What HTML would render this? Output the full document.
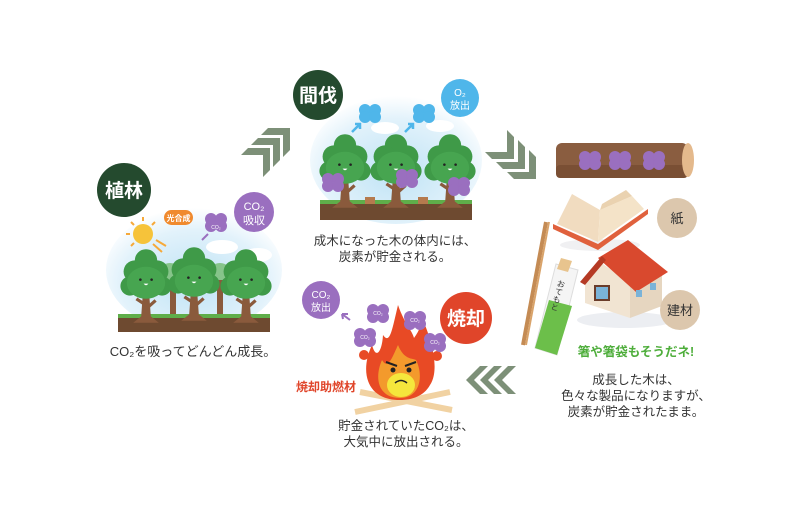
<!DOCTYPE html>
<html><head><meta charset="utf-8"><style>
html,body{margin:0;padding:0;background:#fff;}
svg{display:block}
text{font-family:"Liberation Sans","Noto Sans CJK JP",sans-serif;}
</style></head><body>
<svg width="800" height="516" viewBox="0 0 800 516" xmlns="http://www.w3.org/2000/svg">
<defs>
<radialGradient id="sky" cx="50%" cy="60%" r="60%">
<stop offset="0" stop-color="#bfe3f5"/><stop offset="0.7" stop-color="#e2f2fb"/><stop offset="1" stop-color="#fff"/>
</radialGradient>
<g id="tree0">
<path d="M-4 20 L-6 48 L-16 56 L16 56 L6 48 L4 20 Z" fill="#8a5a3c"/>
<path d="M-3 32 L-12 26 M3 36 L12 28" stroke="#8a5a3c" stroke-width="4"/>
<circle cx="0" cy="-22" r="14" fill="#3f9a48"/>
<circle cx="-14" cy="-8" r="14" fill="#3f9a48"/>
<circle cx="14" cy="-8" r="14" fill="#3f9a48"/>
<circle cx="-20" cy="10" r="12" fill="#3f9a48"/>
<circle cx="20" cy="10" r="12" fill="#3f9a48"/>
<ellipse cx="0" cy="6" rx="24" ry="20" fill="#47a550"/>
<circle cx="-7" cy="2" r="1.6" fill="#222"/><circle cx="7" cy="2" r="1.6" fill="#222"/>
<path d="M-3 7 Q0 11 3 7 Z" fill="#fff"/>
</g>
<g id="tree" transform="scale(0.8)"><use href="#tree0"/></g>
<g id="puff">
<circle cx="-5" cy="-3" r="6"/><circle cx="5" cy="-3" r="6"/><circle cx="-5" cy="4" r="6"/><circle cx="5" cy="4" r="6"/>
</g>
<polygon id="chevUR" points="-22,7 -15,0 7,0 7,22 0,29 0,7"/>
<polygon id="chevDR" points="0,-22 7,-15 7,7 -15,7 -22,0 0,0"/>
<polygon id="chevL" points="0,0 14,-14 22,-14 8,0 22,14 14,14"/>
</defs>

<!-- Forest 1 -->
<ellipse cx="194" cy="270" rx="88" ry="62" fill="url(#sky)"/>
<ellipse cx="258" cy="255" rx="14" ry="7" fill="#fff"/>
<ellipse cx="222" cy="247" rx="16" ry="7" fill="#fff"/>
<g fill="#86c48a"><circle cx="170" cy="275" r="12"/><circle cx="220" cy="275" r="12"/></g>
<rect x="170" y="280" width="6" height="36" fill="#8a5a3c"/>
<rect x="217" y="280" width="6" height="36" fill="#8a5a3c"/>
<rect x="118" y="314" width="152" height="6" fill="#5fae4a"/>
<rect x="118" y="318" width="152" height="14" fill="#6e4a30"/>
<use href="#tree" x="146" y="278"/>
<use href="#tree" x="194" y="276"/>
<use href="#tree" x="246" y="278"/>
<circle cx="143" cy="234" r="10" fill="#f6c33a"/>
<g stroke="#f6a93a" stroke-width="2"><line x1="143" y1="217" x2="143" y2="221"/><line x1="126" y1="234" x2="130" y2="234"/><line x1="131" y1="222" x2="134" y2="225"/><line x1="155" y1="222" x2="152" y2="225"/><line x1="131" y1="246" x2="134" y2="243"/><line x1="156" y1="240" x2="166" y2="246"/><line x1="153" y1="244" x2="162" y2="252"/></g>
<rect x="164" y="210" width="29" height="15" rx="7.5" fill="#f08a2e"/>
<text x="178.5" y="221" font-size="8" fill="#fff" text-anchor="middle" font-weight="bold">光合成</text>
<use href="#puff" x="216" y="222" fill="#9a6fbf"/>
<text x="216" y="229" font-size="5" fill="#fff" text-anchor="middle">CO₂</text>
<path d="M208 234 L202 240" stroke="#9a6fbf" stroke-width="2"/>
<circle cx="254" cy="212" r="20" fill="#9a6fbf"/>
<text x="254" y="210" font-size="11" fill="#fff" text-anchor="middle">CO₂</text>
<text x="254" y="224" font-size="11" fill="#fff" text-anchor="middle">吸収</text>
<circle cx="124" cy="190" r="27" fill="#244a2e"/>
<text x="124" y="197" font-size="19" fill="#fff" text-anchor="middle" font-weight="bold">植林</text>
<text x="193" y="356" font-size="13" fill="#333" text-anchor="middle">CO₂を吸ってどんどん成長。</text>

<!-- chevrons up-right -->
<g fill="#7d9078">
<use href="#chevUR" x="263" y="148"/>
<use href="#chevUR" x="273" y="138"/>
<use href="#chevUR" x="283" y="128"/>
</g>

<!-- Forest 2 -->
<ellipse cx="396" cy="160" rx="86" ry="64" fill="url(#sky)"/>
<ellipse cx="385" cy="128" rx="14" ry="6" fill="#fff"/>
<ellipse cx="440" cy="126" rx="14" ry="6" fill="#fff"/>
<rect x="320" y="200" width="152" height="6" fill="#5fae4a"/>
<rect x="320" y="204" width="152" height="16" fill="#6e4a30"/>
<rect x="365" y="197" width="10" height="7" fill="#b57a4e"/>
<rect x="418" y="197" width="10" height="7" fill="#b57a4e"/>
<use href="#tree" x="345" y="163"/>
<use href="#tree" x="396" y="163"/>
<use href="#tree" x="450" y="163"/>
<g fill="#9a6fbf"><use href="#puff" x="333" y="182"/><use href="#puff" x="407" y="178"/><use href="#puff" x="459" y="186"/></g>
<g fill="#4fb6ea"><use href="#puff" x="370" y="113"/><use href="#puff" x="424" y="113"/></g>
<path d="M352 132 L360 124 M355 124 L360 124 L360 129 M405 132 L413 124 M408 124 L413 124 L413 129" stroke="#4fb6ea" stroke-width="2.5" fill="none"/>
<circle cx="460" cy="98" r="19" fill="#4fb6ea"/>
<text x="460" y="96" font-size="10" fill="#fff" text-anchor="middle">O₂</text>
<text x="460" y="109" font-size="10" fill="#fff" text-anchor="middle">放出</text>
<circle cx="318" cy="95" r="25" fill="#244a2e"/>
<text x="318" y="102" font-size="19" fill="#fff" text-anchor="middle" font-weight="bold">間伐</text>
<text x="395" y="245" font-size="12.5" fill="#333" text-anchor="middle">成木になった木の体内には、</text>
<text x="395" y="261" font-size="12.5" fill="#333" text-anchor="middle">炭素が貯金される。</text>

<!-- chevrons down-right -->
<g fill="#7d9078">
<use href="#chevDR" x="507" y="152"/>
<use href="#chevDR" x="518" y="162"/>
<use href="#chevDR" x="529" y="172"/>
</g>

<!-- Log -->
<rect x="556" y="143" width="132" height="35" rx="6" fill="#8a5d40"/>
<rect x="556" y="165" width="132" height="13" rx="4" fill="#7a4f34"/>
<ellipse cx="688" cy="160" rx="6" ry="17" fill="#e4b98c"/>
<g fill="#9a6fbf"><use href="#puff" x="590" y="160"/><use href="#puff" x="620" y="160"/><use href="#puff" x="654" y="160"/></g>

<!-- Book -->
<ellipse cx="600" cy="245" rx="40" ry="6" fill="#f0f0f2"/>
<polygon points="553,224 598,244 648,209 648,214 598,250 553,229" fill="#e0613d"/>
<polygon points="557,224 598,242 600,210 572,194" fill="#f1dcc0"/>
<polygon points="598,242 644,209 632,196 600,210" fill="#f4e3c8"/>
<polygon points="600,210 632,196 626,190 602,204" fill="#ead2b0"/>
<circle cx="677" cy="218" r="20" fill="#dcc7ad"/>
<text x="677" y="223" font-size="13" fill="#333" text-anchor="middle">紙</text>

<!-- House -->
<ellipse cx="625" cy="320" rx="48" ry="8" fill="#eceef2"/>
<polygon points="585,280 600,262 630,283 630,318 585,303" fill="#f1e4d2"/>
<polygon points="630,283 662,268 662,306 630,318" fill="#e6d6c0"/>
<polygon points="598,258 628,240 668,272 636,292" fill="#d9492e"/>
<polygon points="580,282 602,256 606,260 585,285" fill="#b53a24"/>
<rect x="595" y="286" width="14" height="14" fill="#7ab3d8" stroke="#6a3c2a" stroke-width="2"/>
<rect x="636" y="290" width="6" height="7" fill="#7ab3d8"/>
<rect x="650" y="283" width="6" height="7" fill="#7ab3d8"/>
<circle cx="680" cy="310" r="20" fill="#dcc7ad"/>
<text x="680" y="315" font-size="13" fill="#333" text-anchor="middle">建材</text>

<!-- chopsticks -->
<line x1="546" y1="222" x2="523" y2="345" stroke="#c48b54" stroke-width="4"/>
<line x1="549" y1="222" x2="526" y2="345" stroke="#d9a36a" stroke-width="2"/>
<polygon points="556,264 578,270 557,355 535,348" fill="#f5f5f5" stroke="#ddd"/>
<polygon points="549,300 572,306 557,355 535,348" fill="#6cbf4a"/>
<polygon points="561,258 572,261 568,272 557,269" fill="#e8c48e"/>
<text x="562" y="280" font-size="8" fill="#333" writing-mode="tb" transform="rotate(15 562 280)">おてもと</text>
<text x="636" y="356" font-size="12.5" fill="#4fae3c" text-anchor="middle" font-weight="bold">箸や箸袋もそうだネ!</text>
<text x="636" y="384" font-size="12.5" fill="#333" text-anchor="middle">成長した木は、</text>
<text x="636" y="400" font-size="12.5" fill="#333" text-anchor="middle">色々な製品になりますが、</text>
<text x="636" y="416" font-size="12.5" fill="#333" text-anchor="middle">炭素が貯金されたまま。</text>

<!-- chevrons left -->
<g fill="#7d9078">
<use href="#chevL" x="466" y="380"/>
<use href="#chevL" x="480" y="380"/>
<use href="#chevL" x="494" y="380"/>
</g>

<!-- Fire -->
<line x1="355" y1="412" x2="450" y2="392" stroke="#f1d2a2" stroke-width="6"/>
<line x1="360" y1="392" x2="452" y2="410" stroke="#f1d2a2" stroke-width="6"/>
<path d="M400 400 C365 400 360 370 372 345 C376 360 382 352 383 335 C390 345 392 330 398 305 C405 325 412 330 414 338 C420 330 422 322 422 318 C432 340 440 370 430 385 C424 396 412 400 400 400 Z" fill="#e84a25"/>
<path d="M400 398 C378 398 374 378 382 360 C388 370 392 358 398 345 C404 360 412 358 416 360 C424 376 420 398 400 398 Z" fill="#f39a2c"/>
<ellipse cx="401" cy="385" rx="14" ry="12" fill="#f5e63c"/>
<circle cx="393" cy="370" r="2.5" fill="#222"/><circle cx="409" cy="370" r="2.5" fill="#222"/>
<path d="M386 362 L397 366 M416 362 L405 366" stroke="#222" stroke-width="2"/>
<path d="M395 383 Q401 378 407 383" stroke="#222" stroke-width="1.5" fill="none"/>
<circle cx="364" cy="355" r="5" fill="#e84a25"/><circle cx="437" cy="356" r="5" fill="#e84a25"/>
<g fill="#9a6fbf"><use href="#puff" x="378" y="313"/><use href="#puff" x="365" y="337"/><use href="#puff" x="415" y="320"/><use href="#puff" x="435" y="342"/></g>
<g font-size="5" fill="#fff" text-anchor="middle"><text x="378" y="315">CO₂</text><text x="365" y="339">CO₂</text><text x="415" y="322">CO₂</text><text x="435" y="344">CO₂</text></g>
<path d="M350 320 L342 314 M342 314 L348 314 M342 314 L343 319" stroke="#9a6fbf" stroke-width="2" fill="none"/>
<circle cx="321" cy="300" r="19" fill="#9a6fbf"/>
<text x="321" y="298" font-size="10" fill="#fff" text-anchor="middle">CO₂</text>
<text x="321" y="311" font-size="10" fill="#fff" text-anchor="middle">放出</text>
<circle cx="466" cy="318" r="26" fill="#e0452a"/>
<text x="466" y="325" font-size="19" fill="#fff" text-anchor="middle" font-weight="bold">焼却</text>
<text x="326" y="391" font-size="12" fill="#e0452a" text-anchor="middle" font-weight="bold">焼却助燃材</text>
<text x="406" y="430" font-size="12.5" fill="#333" text-anchor="middle">貯金されていたCO₂は、</text>
<text x="406" y="446" font-size="12.5" fill="#333" text-anchor="middle">大気中に放出される。</text>
</svg>
</body></html>
